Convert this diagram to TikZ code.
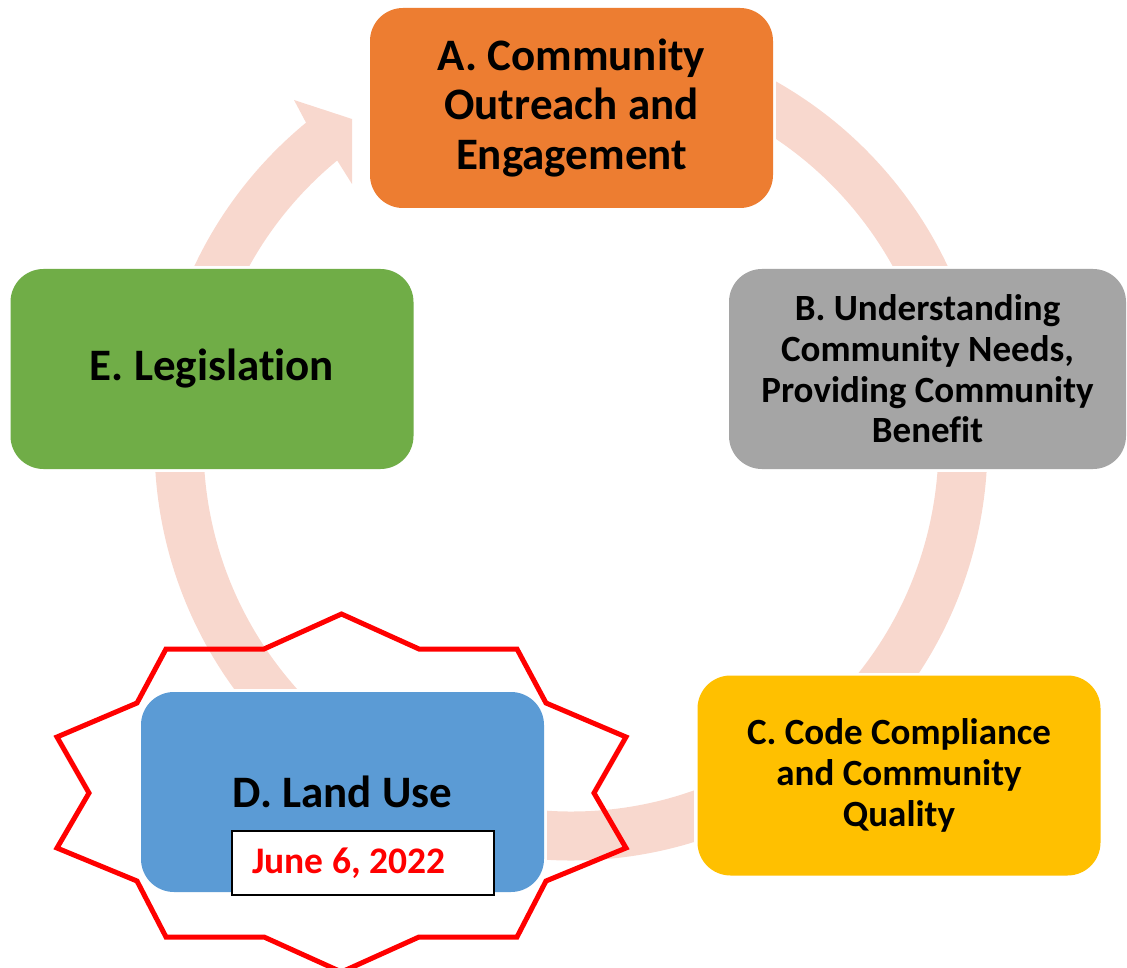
\documentclass[tikz,border=0pt]{standalone}
\usepackage{fontspec}
\setmainfont{Carlito}[Ligatures=NoCommon]
\definecolor{ringpink}{HTML}{F8D8CE}
\definecolor{boxA}{HTML}{ED7D31}
\definecolor{boxB}{HTML}{A5A5A5}
\definecolor{boxC}{HTML}{FFC000}
\definecolor{boxD}{HTML}{5B9BD5}
\definecolor{boxE}{HTML}{70AD47}
\definecolor{seal}{HTML}{FF0000}
\begin{document}
\begin{tikzpicture}[x=1pt,y=-1pt,
  stage/.style={rectangle, rounded corners=33pt, inner sep=0pt, outer sep=0pt,
    minimum width=403pt, minimum height=200pt, align=center, text=black},
  bigtext/.style={font=\fontsize{45}{49.4}\selectfont\bfseries},
  smalltext/.style={font=\fontsize{37}{40.6}\selectfont\bfseries},
  ring/.style={draw=ringpink, line width=49pt},
  gap/.style={fill=white},
  sealline/.style={draw=seal, line width=5pt, line join=miter},
  datebox/.style={draw=black, line width=2pt, fill=white, inner xsep=20pt, inner ysep=0pt,
    minimum width=262pt, minimum height=64pt, text=seal,
    font=\fontsize{37.5}{40}\selectfont\bfseries}]
\useasboundingbox (0,0) rectangle (1127,968);
\clip (0,0) rectangle (1127,968);

% cycle ring: one circular band, its head pointing into stage A
\coordinate (hub) at (571,444);
\draw[ring] ([shift={(-129:392)}]hub) arc[start angle=-129, end angle=-450, radius=392];
\fill[ringpink] (306,122.6) -- (294,100) -- (352,119) -- (352,184) -- (337.2,160.5) -- cycle;

% white gaps where the band passes behind the stages
\fill[gap] (367,5) rectangle (776,211);
\fill[gap] (726,266) rectangle (1127,472);
\fill[gap] (694,673) rectangle (1104,879);
\fill[gap] (138,689) rectangle (547,895);
\fill[gap] (8,266) rectangle (416,472);

% ten-pointed seal round stage D
\draw[sealline] (341.5,614) -- (419,649) -- (517,649) -- (546,703) -- (626,737)
  -- (594,793) -- (626,848) -- (546,881) -- (517,937) -- (419,937) -- (341.5,972)
  -- (264,937) -- (166,937) -- (137,881) -- (57,848) -- (89,793) -- (57,737)
  -- (137,703) -- (166,649) -- (264,649) -- cycle;

% stages
\node[stage, bigtext, fill=boxA] (A) at (571.5,108) {A. Community\\Outreach and\\Engagement};
\node[stage, smalltext, fill=boxB, minimum width=397pt] (B) at (927.5,369)
  {B. Understanding\\Community Needs,\\Providing Community\\Benefit};
\node[stage, smalltext, fill=boxC] (C) at (899,775.5) {C. Code Compliance\\and Community\\Quality};
\node[stage, bigtext, fill=boxD] (D) at (342.5,792) {D. Land Use};
\node[stage, bigtext, fill=boxE] (E) at (212,369) {E. Legislation};

% date label on stage D
\node[datebox] (date) at (363,863) {\makebox[222pt][l]{June 6, 2022}};
\end{tikzpicture}
\end{document}
